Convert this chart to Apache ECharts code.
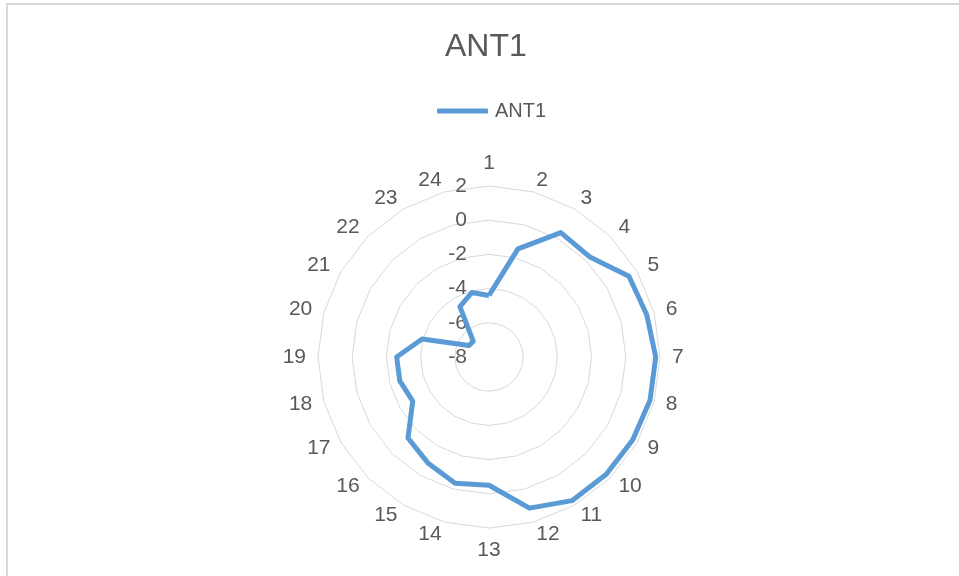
<!DOCTYPE html>
<html>
<head>
<meta charset="utf-8">
<script src="https://cdn.jsdelivr.net/npm/echarts@6/dist/echarts.min.js"></script>
<style>
  html, body { margin: 0; padding: 0; background: #fff; }
  #chart { width: 959px; height: 576px; }
</style>
</head>
<body>
<div id="chart"></div>
<script>
"use strict";

var categories = ['1', '2', '3', '4', '5', '6', '7', '8', '9', '10', '11', '12',
    '13', '14', '15', '16', '17', '18', '19', '20', '21', '22', '23', '24'];
var ant1 = [-4.4, -1.45, 0.4, 0.3, 1.45, 1.55, 1.75, 1.75, 1.7, 1.7, 1.7, 1.15,
    -0.5, -0.35, -0.85, -1.3, -2.85, -2.6, -2.6, -3.95, -6.65, -6.7, -4.6, -4.1];
var axisMin = -8;
var axisMax = 2;

// radar places indicators counter-clockwise, Excel goes clockwise: walk backwards
var order = [0];
for (var i = categories.length - 1; i > 0; i--) {
    order.push(i);
}

var textColor = '#595959';
var font = 'Liberation Sans';

var chart = echarts.init(document.getElementById('chart'));
chart.setOption({
    animation: false,
    backgroundColor: '#fff',
    textStyle: { fontFamily: font },
    graphic: [{
        type: 'rect',
        shape: { x: 7, y: 4, width: 1000, height: 1000 },
        style: { fill: 'none', stroke: '#D9D9D9', lineWidth: 2 },
        silent: true
    }],
    title: {
        text: 'ANT1',
        left: 445,
        top: 31,
        padding: 0,
        textStyle: {
            fontFamily: font,
            fontSize: 32,
            fontWeight: 'normal',
            color: textColor
        }
    },
    legend: {
        left: 437,
        top: 101,
        padding: 0,
        icon: 'roundRect',
        itemWidth: 51,
        itemHeight: 5,
        itemGap: 7,
        textStyle: { fontFamily: font, fontSize: 20, color: textColor, padding: [0, 0, 0, 2] },
        data: ['ANT1']
    },
    radar: {
        center: [489, 357],
        radius: 171,
        startAngle: 90,
        shape: 'polygon',
        splitNumber: 5,
        axisNameGap: 12,
        axisName: { color: textColor, fontSize: 21, fontFamily: font },
        axisLine: { show: false },
        axisTick: { show: false },
        axisLabel: {
            show: true,
            margin: 22,
            color: textColor,
            fontSize: 21,
            fontFamily: font
        },
        splitLine: { lineStyle: { color: '#D9D9D9', width: 1 } },
        splitArea: { show: false },
        indicator: order.map(function (idx, k) {
            var ind = { name: categories[idx], min: axisMin, max: axisMax };
            if (k > 0) {
                ind.axisLabel = { show: false };
            }
            return ind;
        })
    },
    series: [{
        name: 'ANT1',
        type: 'radar',
        symbol: 'none',
        itemStyle: { color: '#5B9BD5' },
        lineStyle: { color: '#5B9BD5', width: 5, join: 'round' },
        data: [{
            name: 'ANT1',
            value: order.map(function (idx) { return ant1[idx]; })
        }]
    }]
});
</script>
</body>
</html>
